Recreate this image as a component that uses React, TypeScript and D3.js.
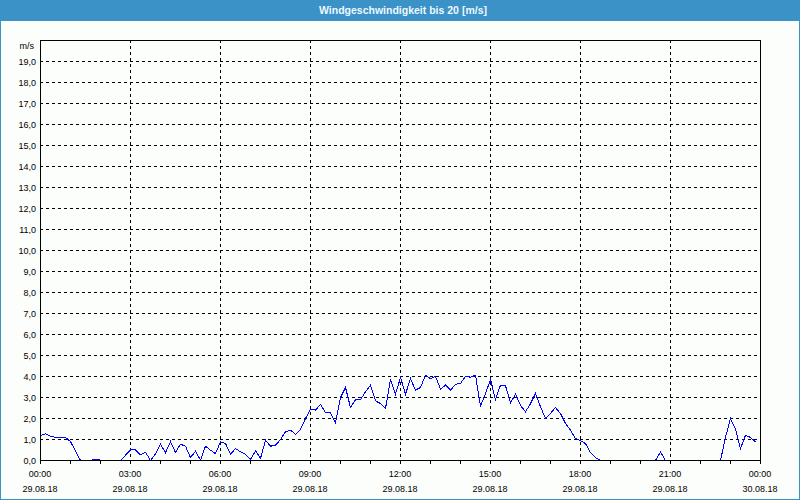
import React, { useEffect } from "react";
import * as d3 from "d3";

const minutes = [
  0, 10, 20, 30, 40, 50, 60, 70, 80, 90, 100, 106, 116, 120, 130, 140, 150, 160, 170, 180,
  190, 200, 210, 220, 230, 240, 250, 260, 270, 280, 290, 300, 310, 320, 330, 340, 350, 360,
  370, 380, 390, 400, 410, 420, 430, 440, 450, 460, 470, 480, 490, 500, 510, 520, 530, 540,
  550, 560, 570, 580, 590, 600, 610, 620, 630, 640, 650, 660, 670, 680, 690, 700, 710, 720,
  730, 740, 750, 760, 770, 780, 790, 800, 810, 820, 830, 840, 850, 860, 870, 880, 890, 900,
  910, 920, 930, 940, 950, 960, 970, 980, 990, 1000, 1010, 1020, 1030, 1040, 1050, 1060,
  1070, 1080, 1090, 1100, 1110, 1120, 1130, 1140, 1150, 1160, 1170, 1180, 1190, 1200, 1210,
  1220, 1230, 1240, 1250, 1260, 1270, 1280, 1290, 1300, 1310, 1320, 1330, 1340, 1350, 1360,
  1370, 1380, 1390, 1400, 1410, 1420, 1430,
];

const speeds = [
  1.19, 1.27, 1.15, 1.1, 1.1, 1.1, 0.9, 0.45, 0, 0, 0, 0.06, 0.06, 0, 0, 0, 0, 0, 0.25, 0.51,
  0.51, 0.27, 0.4, 0, 0.32, 0.78, 0.37, 0.9, 0.38, 0.78, 0.68, 0.14, 0.44, 0.02, 0.68, 0.49, 0.33, 0.89,
  0.81, 0.3, 0.57, 0.41, 0.3, 0.05, 0.46, 0.1, 0.97, 0.68, 0.73, 1.0, 1.37, 1.44, 1.25, 1.48, 2.0, 2.43,
  2.4, 2.67, 2.27, 2.27, 1.79, 3.0, 3.48, 2.52, 2.9, 2.9, 3.27, 3.59, 2.84, 2.71, 2.48, 3.86, 3.16, 3.95,
  3.16, 3.9, 3.35, 3.48, 4.06, 3.9, 4.0, 3.4, 3.59, 3.35, 3.63, 3.67, 4.0, 3.97, 4.06, 2.6, 3.19, 3.86,
  2.9, 3.59, 3.56, 2.75, 3.16, 2.62, 2.32, 2.71, 3.19, 2.56, 2.0, 2.24, 2.52, 2.24, 1.76, 1.44,
  1.05, 0.94, 0.81, 0.37, 0.14, 0, 0, 0, 0, 0, 0, 0, 0, 0, 0,
  0, 0, 0.41, 0, 0, 0, 0, 0, 0, 0, 0, 0, 0, 0, 0,
  1.1, 2.0, 1.48, 0.57, 1.2, 1.1, 0.89,
];

const xTickMinutes = [0, 180, 360, 540, 720, 900, 1080, 1260, 1440];
const timeLabels = ["00:00", "03:00", "06:00", "09:00", "12:00", "15:00", "18:00", "21:00", "00:00"];
const dateLabels = ["29.08.18", "29.08.18", "29.08.18", "29.08.18", "29.08.18", "29.08.18", "29.08.18", "29.08.18", "30.08.18"];
const yTickValues = d3.range(0, 20);
const yTickLabels = yTickValues.map((v) => v.toFixed(1).replace(".", ","));
const title = "Windgeschwindigkeit bis 20 [m/s]";
const unit = "m/s";

const W = 800;
const H = 500;
const L = 40, R = 760, T = 40, B = 460;

export default function App() {
  useEffect(() => {
    document.body.style.margin = "0";
  }, []);

  const x = d3.scaleLinear().domain([0, 1440]).range([L, R]);
  const y = d3.scaleLinear().domain([0, 20]).range([B, T]);
  const line = d3
    .line<number>()
    .x((_, i) => x(minutes[i]))
    .y((d) => y(d));
  const hours = d3.range(0, 25);
  const font = "'Liberation Sans', Arial, sans-serif";

  return (
    <svg width={W} height={H} style={{ position: "absolute", left: 0, top: 0, display: "block" }} fontFamily={font}>
      <rect x={0} y={0} width={W} height={H} fill="#fcfefc" />
      <rect x={0.5} y={0.5} width={W - 1} height={H - 1} fill="none" stroke="#3a92c7" strokeWidth={1} />
      <rect x={0} y={0} width={W} height={21} fill="#3a92c7" />
      <text x={403} y={14} textAnchor="middle" fontSize={10.5} fontWeight="bold" fill="#eef8ff">
        {title}
      </text>

      {/* horizontal grid */}
      {yTickValues.filter((v) => v > 0).map((v) => (
        <line key={"hg" + v} x1={L} x2={R} y1={y(v) + 0.5} y2={y(v) + 0.5} stroke="#000" strokeDasharray="3,3" shapeRendering="crispEdges" />
      ))}
      {/* vertical grid */}
      {xTickMinutes.slice(1, -1).map((m) => (
        <line key={"vg" + m} x1={x(m) + 0.5} x2={x(m) + 0.5} y1={T} y2={B} stroke="#000" strokeDasharray="3,3" shapeRendering="crispEdges" />
      ))}

      <path
        d={line(speeds) || ""}
        transform="translate(0.5,0.5)"
        fill="none"
        stroke="#0000ff"
        strokeWidth={1}
        shapeRendering="crispEdges"
      />

      {/* frame */}
      <rect x={L + 0.5} y={T + 0.5} width={R - L} height={B - T} fill="none" stroke="#000" shapeRendering="crispEdges" />

      {/* hour ticks */}
      {hours.map((h) => (
        <line key={"t" + h} x1={x(h * 60) + 0.5} x2={x(h * 60) + 0.5} y1={B} y2={B + 4} stroke="#000" shapeRendering="crispEdges" />
      ))}

      {/* y labels */}
      {yTickValues.map((v, i) => (
        <text key={"yl" + v} x={36} y={y(v) + 3.5} textAnchor="end" fontSize={9} fill="#000">
          {yTickLabels[i]}
        </text>
      ))}
      <text x={34} y={49} textAnchor="end" fontSize={9} fill="#000">
        {unit}
      </text>

      {/* x labels */}
      {xTickMinutes.map((m, i) => (
        <g key={"xl" + i}>
          <text x={x(m)} y={477} textAnchor="middle" fontSize={9} fill="#000">
            {timeLabels[i]}
          </text>
          <text x={x(m)} y={492} textAnchor="middle" fontSize={9} fill="#000">
            {dateLabels[i]}
          </text>
        </g>
      ))}
    </svg>
  );
}
